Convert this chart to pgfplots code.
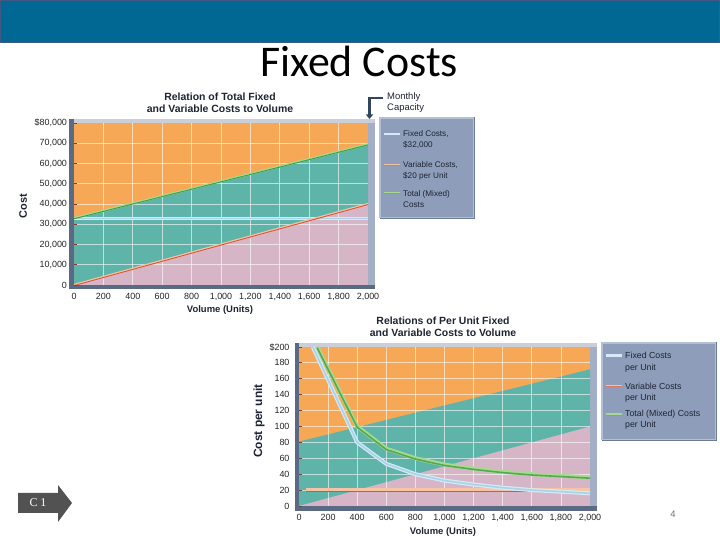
\documentclass[border=0pt]{standalone}
\usepackage{pgfplots}
\pgfplotsset{compat=1.18}
\usepackage{fontspec}
\setmainfont{Liberation Sans}
\newfontfamily\carlito{Carlito}
\newfontfamily\tnr{Liberation Serif}
\usetikzlibrary{arrows.meta}
\definecolor{hdr}{HTML}{006892}
\definecolor{hdrb}{HTML}{3F5A82}
\definecolor{orng}{HTML}{F7A857}
\definecolor{tealc}{HTML}{5FB4AA}
\definecolor{pinkc}{HTML}{D6B6C6}
\definecolor{frameL}{HTML}{5A6A84}
\definecolor{frameR}{HTML}{A3AFC6}
\definecolor{frameT}{HTML}{C9CED8}
\definecolor{legbg}{HTML}{8E9EBA}
\definecolor{legl}{HTML}{B3BFD3}
\definecolor{legd}{HTML}{6C7C98}
\definecolor{tickred}{HTML}{8A3A2A}
\definecolor{fixL}{HTML}{D5EAF6}
\definecolor{fixD}{HTML}{A6D2EA}
\definecolor{varL}{HTML}{F7C3A2}
\definecolor{varD}{HTML}{D5553A}
\definecolor{totL}{HTML}{A6DA8C}
\definecolor{totD}{HTML}{3F9D47}
\definecolor{arrowc}{HTML}{30465E}
\definecolor{txt}{HTML}{1E2433}
\tikzset{gridl/.style={white, opacity=0.6, line width=0.8bp}}
\pgfplotsset{
  chartstyle/.style={
    anchor=south west, scale only axis,
    axis line style={draw=none},
    axis on top,
    scaled ticks=false,
    tick pos=left,
    tick label style={font=\fontsize{9}{10}\selectfont, text=black!85},
    major tick length=3bp, tick align=inside,
    xtick style={draw=none},
    ytick style={tickred, line width=0.8bp},
    axis background/.style={fill=orng},
    xticklabel style={yshift=-4.5bp},
    xmin=0, xmax=2000,
    xtick={0,200,...,2000},
    xticklabels={0,200,400,600,800,{1,000},{1,200},{1,400},{1,600},{1,800},{2,000}},
  },
}
\begin{document}
\begin{tikzpicture}[x=1bp,y=1bp]
\fill[white] (0,0) rectangle (720,540);
% header
\fill[hdr] (0,497) rectangle (720,540);
\draw[hdrb, line width=1bp] (0.5,497.5) rectangle (719.5,539.5);
\node[font=\carlito\fontsize{44}{44}\selectfont, anchor=base, inner sep=0] at (359,463) {Fixed Costs};

% ---------- top chart ----------
\node[font=\bfseries\fontsize{10.5}{12}\selectfont, txt, align=center] at (220,437.5) {Relation of Total Fixed\\and Variable Costs to Volume};
\node[font=\bfseries\fontsize{11}{12}\selectfont, txt, rotate=90] at (23,334) {Cost};
\node[font=\bfseries\fontsize{9.5}{11}\selectfont, txt] at (220,230) {Volume (Units)};
\fill[frameR] (69,251) rectangle (375,421);
\fill[frameT] (69,417) rectangle (375,421);
\fill[frameL] (69,251) rectangle (74,421);
\fill[frameL] (69,251) rectangle (375,255);
\begin{axis}[chartstyle, at={(74bp,255bp)}, width=294bp, height=162bp,
  ymin=0, ymax=80000, ytick={0,10000,...,80000},
  yticklabels={0,{10,000},{20,000},{30,000},{40,000},{50,000},{60,000},{70,000},{\$80,000}},
  yticklabel style={xshift=-3.5bp}]
\addplot[fill=tealc, draw=none] coordinates {(0,33000)(2000,69500)} \closedcycle;
\addplot[fill=pinkc, draw=none] coordinates {(0,0)(2000,40000)} \closedcycle;
\pgfplotsinvokeforeach{200,400,600,800,1000,1200,1400,1600,1800}{\draw[gridl] (axis cs:#1,0) -- (axis cs:#1,80000);}
\pgfplotsinvokeforeach{10000,20000,30000,40000,50000,60000,70000}{\draw[gridl] (axis cs:0,#1) -- (axis cs:2000,#1);}
\addplot[fixL, line width=2.8bp] coordinates {(0,33000)(2000,33000)};
\addplot[fixD, line width=1bp] coordinates {(0,33000)(2000,33000)};
\addplot[varL, line width=2.2bp] coordinates {(0,0)(2000,40000)};
\addplot[varD, line width=0.9bp, yshift=-0.6bp] coordinates {(0,0)(2000,40000)};
\addplot[totL, line width=2.2bp] coordinates {(0,33000)(2000,69500)};
\addplot[totD, line width=0.9bp, yshift=-0.6bp] coordinates {(0,33000)(2000,69500)};
\end{axis}
% monthly capacity
\draw[arrowc, line width=2.5bp, -{Triangle[width=7bp,length=4.5bp]}] (383,442) -- (369.5,442) -- (369.5,421);
\node[font=\fontsize{9.5}{10}\selectfont, txt, anchor=west, inner sep=0] at (387,443) {Monthly};
\node[font=\fontsize{9.5}{10}\selectfont, txt, anchor=west, inner sep=0] at (387,431.5) {Capacity};
% top legend
\fill[legd] (380,321) rectangle (475,423);
\fill[legl] (379,322) rectangle (474,423);
\fill[legbg] (381,323) rectangle (473,421);
\draw[fixL, line width=2.5bp] (384,406) -- (400,406);
\draw[varL, line width=2.5bp] (384,375) -- (400,375);
\draw[varD!70!varL, line width=1bp] (384,374.3) -- (400,374.3);
\draw[totL, line width=2.5bp] (384,347) -- (400,347);
\draw[totD!60!totL, line width=1bp] (384,346.3) -- (400,346.3);
\begin{scope}[every node/.style={font=\fontsize{8.2}{9}\selectfont, txt, anchor=west, inner sep=0}]
\node at (403,406) {Fixed Costs,};
\node at (403,394.5) {\$32,000};
\node at (403,374.5) {Variable Costs,};
\node at (403,364) {\$20 per Unit};
\node at (403,346) {Total (Mixed)};
\node at (403,335.5) {Costs};
\end{scope}

% ---------- bottom chart ----------
\node[font=\bfseries\fontsize{10.5}{12}\selectfont, txt, align=center] at (443,213.5) {Relations of Per Unit Fixed\\and Variable Costs to Volume};
\node[font=\bfseries\fontsize{12}{13}\selectfont, txt, rotate=90] at (259,119) {Cost per unit};
\node[font=\bfseries\fontsize{9.5}{11}\selectfont, txt] at (443,8) {Volume (Units)};
\fill[frameR] (295,29) rectangle (597,197);
\fill[frameT] (295,193) rectangle (597,197);
\fill[frameL] (295,29) rectangle (299,197);
\fill[frameL] (295,29) rectangle (597,34);
\begin{axis}[chartstyle, at={(299bp,34bp)}, width=291bp, height=159bp,
  ymin=0, ymax=200, ytick={0,20,...,200},
  yticklabels={0,20,40,60,80,100,120,140,160,180,{\$200}},
  yticklabel style={xshift=-6bp}]
\addplot[fill=tealc, draw=none] coordinates {(0,81)(2000,172)} \closedcycle;
\addplot[fill=pinkc, draw=none] coordinates {(0,0)(2000,100)} \closedcycle;
\pgfplotsinvokeforeach{200,400,600,800,1000,1200,1400,1600,1800}{\draw[gridl] (axis cs:#1,0) -- (axis cs:#1,200);}
\pgfplotsinvokeforeach{20,40,60,80,100,120,140,160,180}{\draw[gridl] (axis cs:0,#1) -- (axis cs:2000,#1);}
\addplot[varL, line width=3.2bp] coordinates {(50,20)(2000,20)};
\addplot[varD, line width=1bp, yshift=-1.1bp] coordinates {(50,20)(2000,20)};
\addplot[totL, line width=4bp] coordinates {(125,200)(400,100)(600,72)(800,60)(1000,52)(1200,47)(1400,43)(1600,40)(1800,38)(2000,36)};
\addplot[totD!80!totL, line width=1.6bp, yshift=-0.8bp] coordinates {(125,200)(400,100)(600,72)(800,60)(1000,52)(1200,47)(1400,43)(1600,40)(1800,38)(2000,36)};
\addplot[fixL, line width=4bp] coordinates {(95,200)(400,80)(600,53)(800,40)(1000,32)(1200,27)(1400,23)(1600,20)(1800,18)(2000,16)};
\addplot[fixD, line width=1.6bp] coordinates {(95,200)(400,80)(600,53)(800,40)(1000,32)(1200,27)(1400,23)(1600,20)(1800,18)(2000,16)};
\end{axis}
% bottom legend
\fill[legd] (602,99) rectangle (717,198);
\fill[legl] (601,100) rectangle (716,198);
\fill[legbg] (603,101) rectangle (715,196);
\draw[fixL, line width=2.5bp] (606,184.5) -- (622,184.5);
\draw[varL, line width=2.5bp] (606,154) -- (622,154);
\draw[varD!70!varL, line width=1bp] (606,153.3) -- (622,153.3);
\draw[totL, line width=2.5bp] (606,125.5) -- (622,125.5);
\draw[totD!60!totL, line width=1bp] (606,124.8) -- (622,124.8);
\begin{scope}[every node/.style={font=\fontsize{8.8}{10}\selectfont, txt, anchor=west, inner sep=0}]
\node at (625,184.5) {Fixed Costs};
\node at (625,172) {per Unit};
\node at (625,153.5) {Variable Costs};
\node at (625,141.7) {per Unit};
\node at (625,125.7) {Total (Mixed) Costs};
\node at (625,115) {per Unit};
\end{scope}

% C1 arrow and page number
\fill[black!68] (18,47) -- (58,47) -- (58,55) -- (72,37) -- (58,18) -- (58,27) -- (18,27) -- cycle;
\node[font=\tnr\fontsize{12}{13}\selectfont, white] at (38,37) {C 1};
\node[font=\fontsize{9.5}{10}\selectfont, black!55] at (673,26) {4};
\end{tikzpicture}
\end{document}
